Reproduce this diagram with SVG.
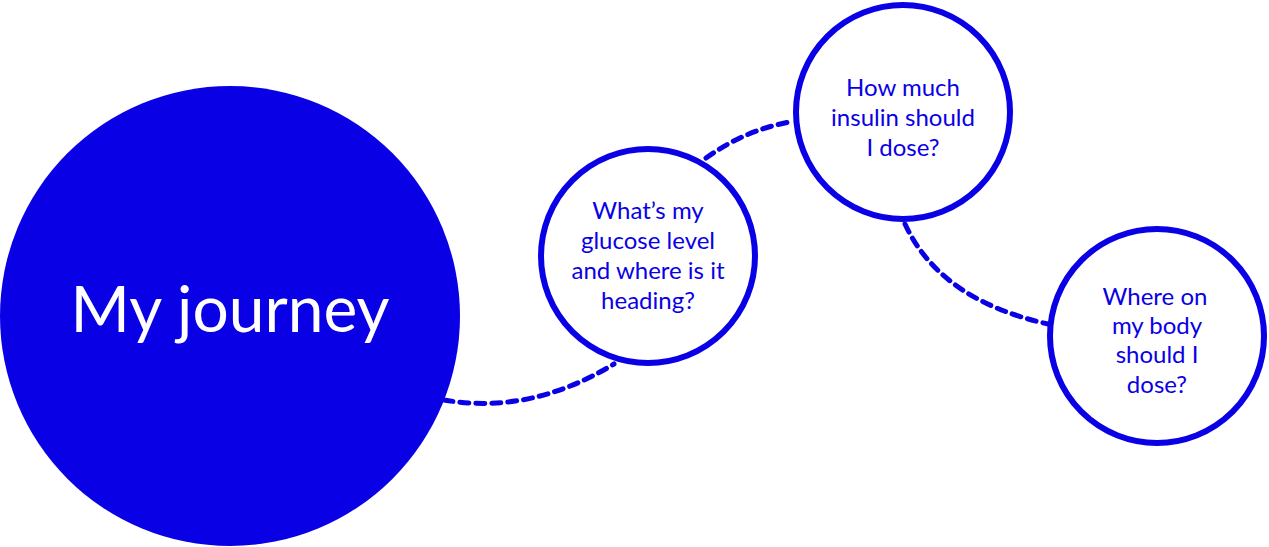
<svg xmlns="http://www.w3.org/2000/svg" width="1269" height="547" viewBox="0 0 1269 547">
<style>
.n{fill:#fff;stroke:#0A00E6;stroke-width:6}
.t{font-family:Lato,"Noto Sans",sans-serif;font-size:24px;fill:#0A00E6;text-anchor:middle}
.c{fill:none;stroke:#0A00E6;stroke-width:5;stroke-dasharray:9 7;stroke-linecap:round}
</style>
<rect width="1269" height="547" fill="#fff"/>
<g id="connectors">
<path class="c" d="M444 400 Q530 415 614 364"/>
<path class="c" d="M706 158 Q745 130 790 122"/>
<path class="c" d="M905 224 Q940 300 1048 324"/>
</g>
<g id="journey"><circle cx="230" cy="316" r="230" fill="#0A00E6"/>
<text x="230" y="332" font-family="Lato,'Noto Sans',sans-serif" font-size="64" fill="#fff" text-anchor="middle">My journey</text></g>
<g id="glucose"><circle class="n" cx="648" cy="256" r="107"/>
<text class="t" x="648" y="219">What’s my</text><text class="t" x="648" y="249">glucose level</text><text class="t" x="648" y="279">and where is it</text><text class="t" x="648" y="309">heading?</text></g>
<g id="insulin"><circle class="n" cx="903" cy="112" r="107"/>
<text class="t" x="903" y="96">How much</text><text class="t" x="903" y="126">insulin should</text><text class="t" x="903" y="156">I dose?</text></g>
<g id="body"><circle class="n" cx="1157" cy="336" r="107"/>
<text class="t" x="1155" y="305">Where on</text><text class="t" x="1157" y="334">my body</text><text class="t" x="1157" y="363">should I</text><text class="t" x="1157" y="393">dose?</text></g>
</svg>
